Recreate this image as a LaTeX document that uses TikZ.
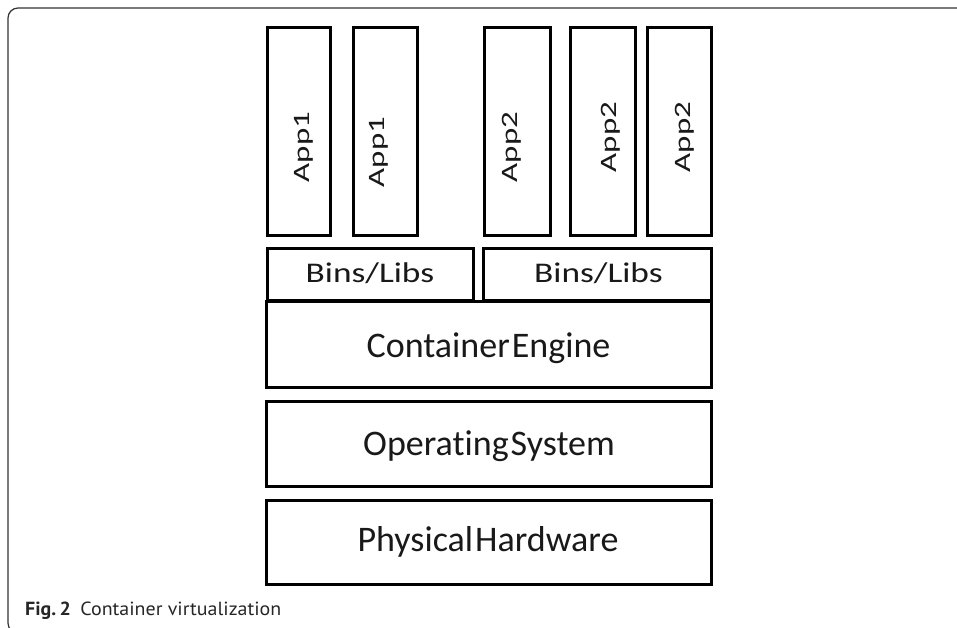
\documentclass[tikz,border=0pt]{standalone}
\usepackage{fontspec}
\newfontfamily\boxfont{Carlito}[Ligatures=NoCommon]
\newfontfamily\capfont{PT Sans}
\begin{document}
\begin{tikzpicture}[x=1pt,y=-1pt,
  layer/.style={draw=black,line width=3pt},
  apptext/.style={font=\boxfont\fontsize{23.5}{25}\selectfont,text=black!90,rotate=90,inner sep=0pt},
  bigtext/.style={font=\boxfont\fontsize{36}{40}\selectfont,text=black!90,inner sep=0pt},
  frame/.style={draw=black!80,line width=1.2pt,rounded corners=10pt}]
\useasboundingbox (0,0) rectangle (957,627);
\begin{scope}
\clip (0,0) rectangle (957,627);
\draw[frame] (8,8) rectangle (990,633);
\end{scope}
% app boxes
\draw[layer] (267.5,27.5) rectangle (330,235);
\draw[layer] (353,27.5) rectangle (417,235);
\draw[layer] (484,27.5) rectangle (550,235);
\draw[layer] (570,27.5) rectangle (635,235);
\draw[layer] (647,27.5) rectangle (711,235);
\node[apptext] (a1) at (304,147) {\scalebox{1.4}[1]{App1}};
\node[apptext] (a2) at (379,152) {\scalebox{1.4}[1]{App1}};
\node[apptext] (b1) at (511.5,147) {\scalebox{1.4}[1]{App2}};
\node[apptext] (b2) at (611,137) {\scalebox{1.4}[1]{App2}};
\node[apptext] (b3) at (685,137) {\scalebox{1.4}[1]{App2}};
% bins/libs
\draw[layer] (267.5,248) rectangle (473.5,300);
\draw[layer] (483,248) rectangle (711,300);
\node[bigtext,font=\boxfont\fontsize{28.5}{30}\selectfont,anchor=base] (l1) at (370,282) {\scalebox{1.24}[1]{Bins/Libs}};
\node[bigtext,font=\boxfont\fontsize{28.5}{30}\selectfont,anchor=base] (l2) at (598.5,282) {\scalebox{1.24}[1]{Bins/Libs}};
% layers
\draw[layer] (266.5,301) rectangle (711,387.5);
\draw[layer] (266.5,401) rectangle (711,486);
\draw[layer] (266.5,500) rectangle (711,584);
\node[bigtext,anchor=base] (ce) at (488.5,357) {Container\hspace{2pt}Engine};
\node[bigtext,anchor=base] (os) at (489,455) {Operating\hspace{2pt}System};
\node[bigtext,anchor=base] (ph) at (488,551) {Physical\hspace{2pt}Hardware};
% caption
\node[anchor=base west,inner sep=0pt,font=\capfont\fontsize{19}{22}\selectfont,text=black!85] (cap) at (25,615) {\scalebox{1.05}[1]{{\bfseries Fig.\,2}\hspace{9pt}Container virtualization}};
\end{tikzpicture}
\end{document}
